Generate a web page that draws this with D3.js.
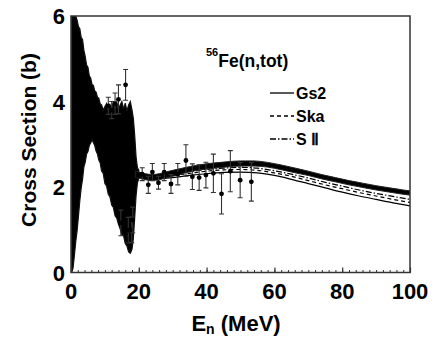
<!DOCTYPE html>
<html>
<head>
<meta charset="utf-8">
<script src="https://cdn.jsdelivr.net/npm/d3@7"></script>
<style>
  body { margin: 0; background: #fff; }
  svg text { font-family: "Liberation Sans", Arial, sans-serif; font-weight: bold; }
</style>
</head>
<body>
<svg id="chart"></svg>
<script>
var xTicks = [0, 20, 40, 60, 80, 100];
var yTicks = [0, 2, 4, 6];

// resonance region envelope (0-20 MeV)
var resE = [0.2, 0.6, 1.0, 1.4, 1.8, 2.2, 2.6, 3.0, 3.4, 3.8, 4.2, 4.6, 5.0, 5.4, 5.8, 6.2, 6.6, 7.0, 7.4, 7.8, 8.2, 8.6, 9.0, 9.5, 10, 10.5, 11, 11.5, 12, 12.5, 13, 13.5, 14, 14.5, 15, 15.5, 16, 16.5, 17, 17.5, 18, 18.4, 18.8, 19.2, 19.6, 20];
var resHi = [6.0, 6.0, 6.0, 6.0, 5.9, 5.75, 5.7, 5.5, 5.45, 5.2, 5.05, 4.85, 4.8, 4.6, 4.55, 4.4, 4.38, 4.25, 4.22, 4.1, 4.08, 3.95, 3.92, 3.8, 3.88, 3.95, 3.78, 3.92, 3.82, 4.0, 3.85, 3.98, 3.82, 3.92, 4.0, 3.82, 3.96, 3.78, 3.92, 4.0, 3.8, 3.6, 3.2, 2.7, 2.45, 2.4];
var resLo = [0.0, 0.1, 0.4, 0.72, 0.98, 1.32, 1.68, 1.97, 2.18, 2.47, 2.58, 2.77, 2.83, 2.97, 3.03, 3.1, 3.04, 2.97, 2.84, 2.77, 2.63, 2.57, 2.38, 2.32, 2.08, 2.02, 1.83, 1.77, 1.58, 1.52, 1.33, 1.27, 1.13, 1.02, 0.88, 0.86, 0.68, 0.62, 0.48, 0.45, 0.55, 0.8, 1.3, 1.8, 2.1, 2.2];

// smooth measured band (19-100 MeV)
var bandE = [19, 20, 22, 24, 26, 28, 30, 34, 38, 42, 46, 50, 54, 58, 62, 66, 70, 74, 78, 82, 86, 90, 94, 98, 100];
var bandV = [2.3, 2.28, 2.24, 2.22, 2.24, 2.28, 2.32, 2.4, 2.46, 2.5, 2.53, 2.55, 2.55, 2.52, 2.46, 2.39, 2.32, 2.24, 2.17, 2.1, 2.04, 1.98, 1.93, 1.88, 1.86];
var bandW = [0.08, 0.07, 0.07, 0.07, 0.07, 0.07, 0.07, 0.06, 0.06, 0.06, 0.06, 0.06, 0.06, 0.055, 0.055, 0.055, 0.05, 0.05, 0.05, 0.05, 0.05, 0.05, 0.05, 0.05, 0.05];

// second data set with large error bars
var scatE = [11.0, 12.0, 13.0, 14.0, 14.7, 16.1, 16.9, 17.9, 18.2, 21.0, 22.8, 24.0, 25.8, 27.5, 29.5, 31.5, 33.9, 35.8, 37.8, 39.8, 42.0, 44.4, 47.0, 49.9, 53.2];
var scatV = [3.9, 3.8, 3.95, 4.05, 1.16, 4.39, 0.99, 1.0, 1.23, 2.3, 2.05, 2.35, 2.1, 2.35, 2.07, 2.3, 2.62, 2.24, 2.22, 2.28, 2.32, 1.84, 2.37, 2.16, 2.12];
var scatErr = [0.2, 0.2, 0.25, 0.34, 0.3, 0.36, 0.3, 0.3, 0.3, 0.15, 0.2, 0.2, 0.15, 0.2, 0.22, 0.25, 0.37, 0.3, 0.3, 0.3, 0.45, 0.47, 0.48, 0.41, 0.45];

// model curves
var modelE = [20, 25, 30, 35, 40, 45, 50, 55, 60, 65, 70, 75, 80, 85, 90, 95, 100];
var gs2 = [2.24, 2.2, 2.22, 2.27, 2.31, 2.34, 2.35, 2.33, 2.27, 2.18, 2.08, 1.98, 1.88, 1.79, 1.71, 1.63, 1.56];
var ska = [2.27, 2.24, 2.27, 2.32, 2.37, 2.4, 2.41, 2.39, 2.33, 2.25, 2.15, 2.05, 1.96, 1.87, 1.79, 1.71, 1.64];
var s2 = [2.3, 2.27, 2.3, 2.36, 2.41, 2.44, 2.46, 2.44, 2.38, 2.3, 2.21, 2.11, 2.02, 1.93, 1.85, 1.78, 1.71];

var models = [
  {name: "Gs2", values: gs2, dash: null},
  {name: "Ska", values: ska, dash: "4,3"},
  {name: "S \u2161", values: s2, dash: "6,2,1.5,2"}
];

var w = 436, h = 337;
var pl = 71, pr = 410, pt = 16, pb = 272.5;

var svg = d3.select("#chart").attr("width", w).attr("height", h);

var x = d3.scaleLinear().domain([0, 100]).range([pl, pr]);
var y = d3.scaleLinear().domain([0, 6]).range([pb, pt]);

svg.append("clipPath").attr("id", "clip")
  .append("rect").attr("x", pl).attr("y", pt).attr("width", pr - pl).attr("height", pb - pt);

var plot = svg.append("g").attr("clip-path", "url(#clip)");

var resData = resE.map(function(e, i) { return {e: e, lo: resLo[i], hi: resHi[i]}; });
plot.append("path")
  .datum(resData)
  .attr("d", d3.area().x(function(d) { return x(d.e); }).y0(function(d) { return y(d.lo); }).y1(function(d) { return y(d.hi); }))
  .attr("fill", "#000")
  .attr("stroke", "#111")
  .attr("stroke-width", 1.2);

var bandData = bandE.map(function(e, i) { return {e: e, v: bandV[i], w: bandW[i]}; });

models.forEach(function(m) {
  var pts = modelE.map(function(e, i) { return {e: e, v: m.values[i]}; });
  plot.append("path")
    .datum(pts)
    .attr("d", d3.line().curve(d3.curveMonotoneX).x(function(d) { return x(d.e); }).y(function(d) { return y(d.v); }))
    .attr("fill", "none")
    .attr("stroke", "#000")
    .attr("stroke-width", 1.2)
    .attr("stroke-dasharray", m.dash);
});

plot.append("path")
  .datum(bandData)
  .attr("d", d3.area().curve(d3.curveMonotoneX).x(function(d) { return x(d.e); })
    .y0(function(d) { return y(d.v - d.w); }).y1(function(d) { return y(d.v + d.w); }))
  .attr("fill", "#000")
  .attr("stroke", "#222")
  .attr("stroke-width", 1);

var scat = scatE.map(function(e, i) { return {e: e, v: scatV[i], err: scatErr[i]}; });
var eb = plot.selectAll(".eb").data(scat).enter().append("g").attr("class", "eb");
eb.append("line")
  .attr("x1", function(d) { return x(d.e); }).attr("x2", function(d) { return x(d.e); })
  .attr("y1", function(d) { return y(d.v - d.err); }).attr("y2", function(d) { return y(d.v + d.err); })
  .attr("stroke", "#333").attr("stroke-width", 1.1);
[-1, 1].forEach(function(s) {
  eb.append("line")
    .attr("x1", function(d) { return x(d.e) - 2.5; }).attr("x2", function(d) { return x(d.e) + 2.5; })
    .attr("y1", function(d) { return y(d.v + s * d.err); }).attr("y2", function(d) { return y(d.v + s * d.err); })
    .attr("stroke", "#333").attr("stroke-width", 1.1);
});
eb.append("circle")
  .attr("cx", function(d) { return x(d.e); }).attr("cy", function(d) { return y(d.v); })
  .attr("r", 2.4).attr("fill", "#000");

// frame
svg.append("rect")
  .attr("x", pl).attr("y", pt).attr("width", pr - pl).attr("height", pb - pt)
  .attr("fill", "none").attr("stroke", "#333").attr("stroke-width", 1.5);

// x axis: minor ticks every 2 MeV, major every 20
svg.append("g")
  .attr("transform", "translate(0," + pb + ")")
  .call(d3.axisBottom(x).tickValues(d3.range(0, 101, 2)).tickSize(-2.5).tickFormat(""))
  .call(function(g) { g.select(".domain").remove(); g.selectAll("line").attr("stroke", "#333"); });
svg.append("g")
  .attr("transform", "translate(0," + pb + ")")
  .call(d3.axisBottom(x).tickValues(xTicks).tickSize(-5).tickFormat(""))
  .call(function(g) { g.select(".domain").remove(); g.selectAll("line").attr("stroke", "#333").attr("stroke-width", 1.2); });

svg.append("g").selectAll("text").data(xTicks).enter().append("text")
  .attr("x", function(d) { return x(d); })
  .attr("y", 299)
  .attr("text-anchor", "middle")
  .attr("font-size", 22)
  .text(function(d) { return d; });

svg.append("g").selectAll("text").data(yTicks).enter().append("text")
  .attr("x", 65)
  .attr("y", function(d) { return y(d) + 8; })
  .attr("text-anchor", "end")
  .attr("font-size", 22)
  .text(function(d) { return d; });

svg.append("text")
  .attr("transform", "translate(36,140) rotate(-90)")
  .attr("text-anchor", "middle")
  .attr("font-size", 21)
  .text("Cross Section (b)");

var xl = svg.append("text")
  .attr("x", 236).attr("y", 331)
  .attr("text-anchor", "middle")
  .attr("font-size", 22);
xl.append("tspan").text("E");
xl.append("tspan").attr("font-size", 14).attr("dy", 3).text("n");
xl.append("tspan").attr("dy", -3).text(" (MeV)");

var ann = svg.append("text").attr("x", 206).attr("y", 67).attr("font-size", 17.5);
ann.append("tspan").attr("font-size", 11).attr("dy", -11).text("56");
ann.append("tspan").attr("dy", 11).text("Fe(n,tot)");

var leg = svg.append("g");
models.forEach(function(m, i) {
  var ly = 93 + i * 23;
  leg.append("line")
    .attr("x1", 270).attr("x2", 294).attr("y1", ly).attr("y2", ly)
    .attr("stroke", "#000").attr("stroke-width", 1.3)
    .attr("stroke-dasharray", m.dash);
  leg.append("text")
    .attr("x", 296).attr("y", ly + 6)
    .attr("font-size", 16)
    .text(m.name);
});
</script>
</body>
</html>
